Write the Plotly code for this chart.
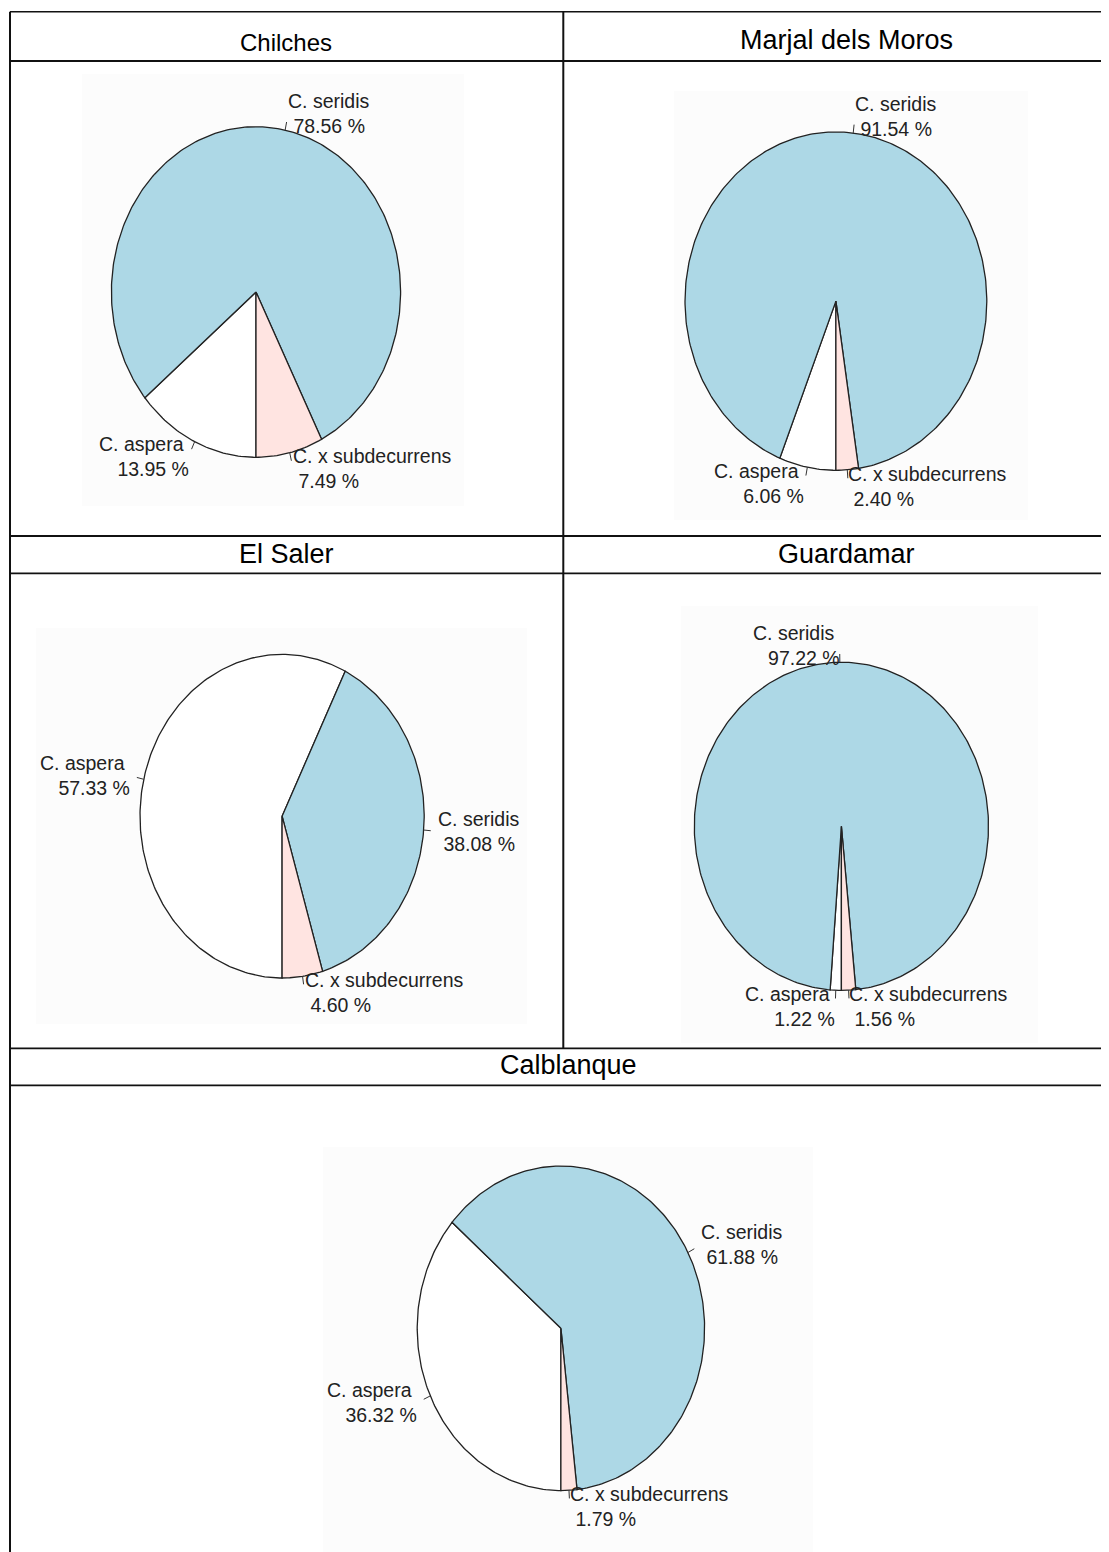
import math
import plotly.graph_objects as go

# ---------------- data ----------------
sites = ["Chilches", "Marjal dels Moros", "El Saler", "Guardamar", "Calblanque"]
species = ["C. aspera", "C. seridis", "C. x subdecurrens"]
aspera_pct = [13.95, 6.06, 57.33, 1.22, 36.32]
seridis_pct = [78.56, 91.54, 38.08, 97.22, 61.88]
subdecurrens_pct = [7.49, 2.40, 4.60, 1.56, 1.79]
slice_colors = ["#FFFFFF", "#ADD8E6", "#FFE4E1"]  # white, lightblue, mistyrose

# ---------------- layout (page pixels) ----------------
PAGE_W, PAGE_H = 1109, 1552
OFF = 8  # default body margin of the html page
W, H = PAGE_W - OFF, PAGE_H - OFF
# pie centre / radii in px (cx, cy, rx, ry)
pie_geom = [
    (256.0, 292.0, 144.6, 165.3),
    (835.9, 301.1, 150.9, 169.2),
    (282.1, 816.2, 142.1, 161.8),
    (841.4, 826.3, 147.1, 164.1),
    (560.9, 1328.3, 143.7, 162.3),
]
# faint background of the embedded images (x0, y0, x1, y1)
img_boxes = [
    (82, 74, 464, 506),
    (674, 91, 1028, 520),
    (36, 628, 527, 1024),
    (681, 606, 1038, 1043),
    (323, 1147, 813, 1560),
]
# header text positions (x, y, size)
header_pos = [
    (286, 43, 24),
    (846, 40, 27),
    (286, 554, 27),
    (846, 554, 27),
    (568, 1065, 27),
]
EXT = 1.3

def px(x):
    return (x - OFF) / W

def py(y):
    return 1 - (y - OFF) / H

fig = go.Figure()
shapes = []
annotations = []

for box in img_boxes:
    shapes.append(dict(type="rect", xref="paper", yref="paper",
                       x0=px(box[0]), x1=px(box[2]), y0=py(box[3]), y1=py(box[1]),
                       fillcolor="#fcfcfc", line=dict(width=0), layer="below"))

for i, site in enumerate(sites):
    vals = [aspera_pct[i], seridis_pct[i], subdecurrens_pct[i]]
    total = sum(vals)
    cx, cy, rx, ry = pie_geom[i]
    ax = "" if i == 0 else str(i + 1)
    xa, ya = "x" + ax, "y" + ax
    fig.update_layout(**{
        "xaxis" + ax: dict(domain=[px(cx - EXT * rx), px(cx + EXT * rx)],
                           range=[-EXT, EXT], visible=False, fixedrange=True,
                           anchor=ya),
        "yaxis" + ax: dict(domain=[py(cy + EXT * ry), py(cy - EXT * ry)],
                           range=[-EXT, EXT], visible=False, fixedrange=True,
                           anchor=xa),
    })
    start = 270.0
    tx, ty = [], []
    for j, v in enumerate(vals):
        span = 360.0 * v / total
        end = start - span
        n = max(4, int(span / 1.0))
        xs, ys = [0.0], [0.0]
        for k in range(n + 1):
            a = math.radians(start + (end - start) * k / n)
            xs.append(math.cos(a))
            ys.append(math.sin(a))
        xs.append(0.0)
        ys.append(0.0)
        fig.add_trace(go.Scatter(x=xs, y=ys, xaxis=xa, yaxis=ya, mode="lines",
                                 fill="toself", fillcolor=slice_colors[j],
                                 line=dict(color="#222222", width=1.3),
                                 hoverinfo="skip", showlegend=False))
        mid = math.radians((start + end) / 2)
        c, s = math.cos(mid), math.sin(mid)
        tx += [c, 1.05 * c, None]
        ty += [s, 1.05 * s, None]
        left = c < 0
        annotations.append(dict(
            xref=xa, yref=ya, x=1.1 * c, y=1.1 * s,
            text=f"{species[j]}\u00a0<br>\u00a0{v:.2f} %",
            showarrow=False, xanchor="right" if left else "left",
            align="right" if left else "left", yanchor="middle",
            borderpad=0, borderwidth=0,
            font=dict(family="Liberation Sans, Arial, sans-serif", size=19.5, color="#222222")))
        start = end
    fig.add_trace(go.Scatter(x=tx, y=ty, xaxis=xa, yaxis=ya, mode="lines",
                             line=dict(color="#333333", width=1),
                             hoverinfo="skip", showlegend=False))
    hx, hy, hs = header_pos[i]
    annotations.append(dict(xref="paper", yref="paper", x=px(hx), y=py(hy),
                            text=site, showarrow=False, xanchor="center", yanchor="middle",
                            font=dict(family="Liberation Sans, Arial, sans-serif", size=hs, color="#000000")))

# table grid lines
def hline(y, x0, x1, w):
    shapes.append(dict(type="line", xref="paper", yref="paper", x0=px(x0), x1=px(x1),
                       y0=py(y), y1=py(y), line=dict(color="#111111", width=w)))

def vline(x, y0, y1, w):
    shapes.append(dict(type="line", xref="paper", yref="paper", x0=px(x), x1=px(x),
                       y0=py(y0), y1=py(y1), line=dict(color="#111111", width=w)))

hline(11.7, 10, PAGE_W, 1.4)
hline(61, 10, PAGE_W, 2.2)
hline(536, 10, PAGE_W, 2.2)
hline(573.3, 10, PAGE_W, 1.8)
hline(1048.3, 10, PAGE_W, 1.8)
hline(1085.3, 10, PAGE_W, 1.8)
vline(10, 11.7, PAGE_H, 2.0)
vline(563.3, 11.7, 1048.3, 2.0)

fig.update_layout(width=W, height=H, margin=dict(l=0, r=0, t=0, b=0),
                  paper_bgcolor="white", plot_bgcolor="rgba(0,0,0,0)",
                  shapes=shapes, annotations=annotations, showlegend=False)

fig.write_html("out.html")
